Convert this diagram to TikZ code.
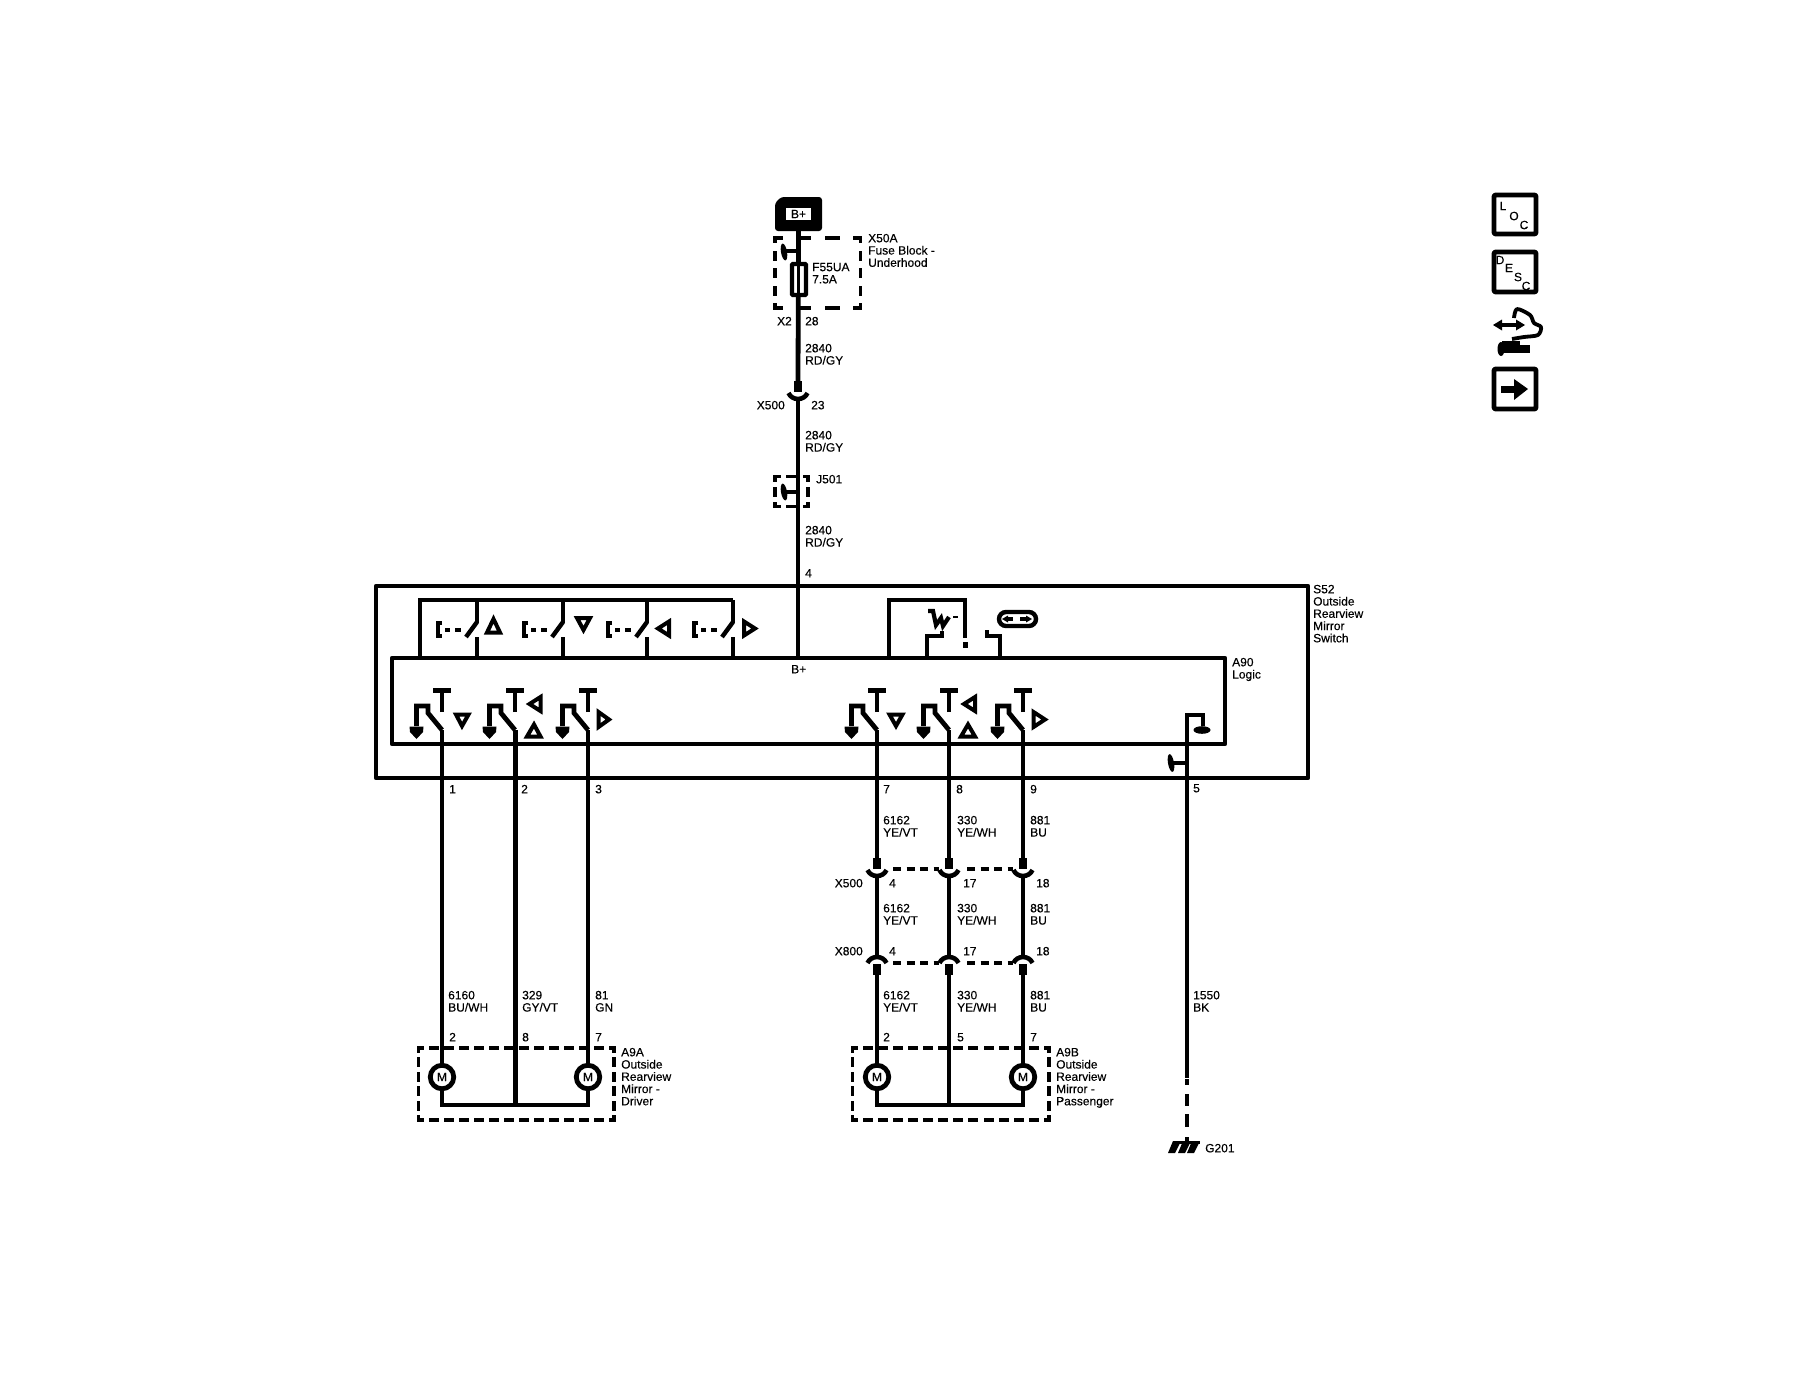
\documentclass[tikz,border=0pt]{standalone}
\usepackage{fontspec}
\setmainfont{Liberation Sans}
\newfontfamily\wireface{Liberation Sans}[FakeBold=0.25]
\newcommand{\wfont}{\wireface\fontsize{12}{12.25}\selectfont}
\newcommand{\dside}[5]{%
  \pgfmathsetmacro\dLen{veclen(#3-#1,#4-#2)}%
  \pgfmathsetmacro\dPer{\dLen/#5}%
  \pgfmathsetmacro\dOn{\dashon-3.4}%
  \pgfmathsetmacro\dOff{\dPer-\dOn}%
  \pgfmathsetmacro\dPh{\dOn/2}%
  \draw[line width=3.4pt,line cap=rect,dash pattern={on \dOn pt off \dOff pt},dash phase=\dPh pt] (#1,#2)--(#3,#4);%
}
\newcommand{\dbx}[8]{%
  \def\dashon{#7}\dside{#1}{#2}{#3}{#2}{#5}\dside{#1}{#4}{#3}{#4}{#5}%
  \def\dashon{#8}\dside{#1}{#2}{#1}{#4}{#6}\dside{#3}{#2}{#3}{#4}{#6}%
}
\tikzset{
  x=1pt,y=-1pt,
  lbl/.style={inner sep=0pt,anchor=base west,yshift=-4.3pt,font=\wfont},
  mlbl/.style={inner sep=0pt,anchor=north west,align=left,yshift=4.3pt,font=\wfont},
  wire/.style={line width=4.8pt,line cap=butt,line join=miter},
  frame/.style={line width=4.6pt,line join=round},
  dlink/.style={line width=3.2pt,dash pattern=on 8pt off 5.5pt},
  tri/.style={line width=4pt,line join=miter,miter limit=10},
  motor/.style={circle,draw,fill=white,line width=4.8pt,minimum size=23.5pt,inner sep=0pt,font=\wfont},
  icon/.style={line width=4.6pt,line join=round,rounded corners=1pt},
  icontxt/.style={inner sep=0pt,font=\wfont},
  logicsw/.pic={
    \draw[wire] (0,0)--(-14,-17)--(-14,-24)--(-25.5,-24)--(-25.5,-4);
    \fill (-32.5,-3.5)--(-18.5,-3.5)--(-19,2)--(-25.5,9)--(-32,2)--cycle;
    \draw[wire] (0,-18)--(0,-41) (-9,-39.5)--(9,-39.5);
  },
  mirrorsw/.pic={
    \draw[wire,line width=4.4pt] (0,0)--(0,23) (0,37)--(0,58);
    \draw[wire,line width=4.4pt] (0,22)--(-11,37);
    \draw[wire,line width=3.6pt] (-35,23)--(-39,23)--(-39,36)--(-35,36) (-32,30)--(-27,30) (-22,30)--(-16,30);
  },
  cupconn/.pic={
    \fill (-4,0) rectangle (4,11);
    \draw[wire,line width=4.6pt] (-9.5,12) .. controls (-6,20) and (6,20) .. (9.5,12);
  },
  capconn/.pic={
    \fill (-4,0) rectangle (4,-11);
    \draw[wire,line width=4.6pt] (-9.5,-12) .. controls (-6,-20) and (6,-20) .. (9.5,-12);
  },
}
\begin{document}
\begin{tikzpicture}
\useasboundingbox (0,0) rectangle (1800,1376);
\fill[white] (0,0) rectangle (1800,1376);

% anchors of the supply wire
\coordinate (splice50) at (798,251);
\coordinate (x500up) at (798,381);
\coordinate (x500dn) at (798,398);
\coordinate (bplus) at (798,658);

% battery
\fill[rounded corners=3pt] (775,203)--(781,197)--(822,197)--(822,231)--(775,231)--cycle;
\node[fill=white,minimum width=25pt,minimum height=12pt,inner sep=0pt,font=\wfont] (bat) at (798.5,214) {B+};

% dashed outlines
\dbx{775}{238}{860.5}{308}{3}{4}{15}{10}
\dbx{775}{476.5}{808}{506.5}{2}{2}{11}{10}
\dbx{418.5}{1048}{614}{1120}{13}{5}{10}{10}
\dbx{852.5}{1048}{1049}{1120}{13}{5}{10}{10}

% supply wire
\draw[wire] (bat.south |- 0,231) -- (x500up);
\pic at (x500up) {cupconn};
\draw[wire] (x500dn) -- (bplus);

% fuse
\draw[line width=4.4pt,rounded corners=1pt,fill=white] (792,264) rectangle (806,295);
\draw[line width=3pt] (798.5,262) -- (798.5,297);
% splices
\draw[line width=4pt] (783,251) -- (splice50);
\fill[rotate around={10:(784,252)}] (784,252) ellipse (3pt and 8.5pt);
\draw[line width=4pt] (783,492) -- (798,492);
\fill[rotate around={10:(784,492)}] (784,492) ellipse (3pt and 8.5pt);

% module boxes
\draw[frame] (376,586) rectangle (1308,778);
\draw[frame] (392,658) rectangle (1225,744);

% top bus with mirror switches
\draw[wire,line width=4.4pt] (420,658)--(420,600)--(733,600);
\pic at (477,600) {mirrorsw};
\pic at (563,600) {mirrorsw};
\pic at (647,600) {mirrorsw};
\pic at (733,600) {mirrorsw};
\draw[tri] (487,632.5)--(500,632.5)--(493.5,619)--cycle;
\draw[tri] (577,618)--(590,618)--(583.5,630)--cycle;
\draw[tri] (669,621.5)--(669,635.5)--(658,628.5)--cycle;
\draw[tri] (744,621.5)--(744,635.5)--(755,628.5)--cycle;

% folding circuit
\draw[wire,line width=4.4pt] (889,658)--(889,600)--(965,600)--(965,638);
\fill (963,642) rectangle (968,648);
\draw[wire,line width=4.2pt] (928,611)--(933,611)--(936,625)--(941,618)--(943,626)--(949,617);
\draw[wire,line width=2.8pt] (953,617)--(958,617);
\draw[wire,line width=4.4pt] (942,631)--(942,636)--(927,636)--(927,658);
\draw[wire,line width=4.4pt] (987,630)--(987,636)--(1000,636)--(1000,658);
\draw[line width=4.4pt,rounded corners=7pt,fill=white] (999,612) rectangle (1036,626);
\draw[line width=3.2pt] (1006,619)--(1013,619) (1020,619)--(1028,619);
\fill (1002,619)--(1008,615.5)--(1008,622.5)--cycle;
\fill (1032,619)--(1026,615.5)--(1026,622.5)--cycle;

% logic switches
\foreach \sx in {442,515,588,877,949,1023} {\pic at (\sx,730) {logicsw};}
\draw[tri] (456,714.5)--(468.5,714.5)--(462,726)--cycle;
\draw[tri] (540.5,697)--(540.5,711)--(529.5,704)--cycle;
\draw[tri] (527,736.5)--(540.5,736.5)--(534,724.5)--cycle;
\draw[tri] (598.5,712)--(598.5,727)--(609,719.5)--cycle;
\draw[tri] (889.5,714.5)--(902.5,714.5)--(896,726)--cycle;
\draw[tri] (975,697)--(975,711)--(964,704)--cycle;
\draw[tri] (961,736.5)--(975,736.5)--(968,724.5)--cycle;
\draw[tri] (1033.5,712)--(1033.5,727)--(1045,719.5)--cycle;

% ground logic
\draw[wire] (1187,1078)--(1187,715)--(1203,715)--(1203,726);
\fill (1202,730) ellipse (8.5pt and 3.8pt);
\draw[line width=4pt] (1171,763)--(1187,763);
\fill[rotate around={10:(1171,763)}] (1171,763) ellipse (3pt and 9pt);
\coordinate (gnd) at (1187,1141);
\draw[wire,dash pattern=on 6pt off 9pt on 12pt off 8pt on 13pt off 10pt] (1187,1079)--(gnd);
\fill (1175,1141) rectangle (1200,1144);
\fill (1173,1141)--(1181,1141)--(1175,1153)--(1168,1153)--cycle;
\fill (1183,1141)--(1191,1141)--(1185,1153)--(1178,1153)--cycle;
\fill (1192,1141)--(1200,1141)--(1194,1153)--(1187,1153)--cycle;

% motors
\node[motor] (m1) at (442,1077) {M};
\node[motor] (m2) at (588,1077) {M};
\node[motor] (m3) at (877,1077) {M};
\node[motor] (m4) at (1023,1077) {M};
\coordinate (mid1) at (516,1105);
\coordinate (mid2) at (949,1105);

% harness wires, left mirror
\draw[wire] (442,730) -- (m1);
\draw[wire] (588,730) -- (m2);
\draw[wire] (515.5,730) -- (515.5,1107);
\draw[wire] (m1.south) |- (mid1) -| (m2.south);
% right mirror, through X500 / X800
\foreach \wx in {877,949,1023} {
  \draw[wire] (\wx,730)--(\wx,858);
  \pic at (\wx,858) {cupconn};
  \draw[wire] (\wx,875)--(\wx,958);
  \pic at (\wx,975) {capconn};
}
\draw[wire] (877,975) -- (m3);
\draw[wire] (1023,975) -- (m4);
\draw[wire] (949,975) -- (949,1107);
\draw[wire] (m3.south) |- (mid2) -| (m4.south);
\draw[dlink] (893,869)--(939,869) (967,869)--(1013,869);
\draw[dlink] (893,963)--(939,963) (967,963)--(1013,963);

% labels, top
\node[mlbl] (lx50) at (868,238) {X50A\\Fuse Block -\\Underhood};
\node[mlbl] (lf55) at (812,267) {F55UA\\7.5A};
\node[lbl,anchor=base east] (lx2) at (792,321) {X2};
\node[lbl] (l28) at (805,321) {28};
\node[mlbl] (l2840a) at (805,348) {2840\\RD/GY};
\node[lbl,anchor=base east] (lx500a) at (785,405) {X500};
\node[lbl] (l23) at (811,405) {23};
\node[mlbl] (l2840b) at (805,435) {2840\\RD/GY};
\node[lbl] (lj501) at (816,479) {J501};
\node[mlbl] (l2840c) at (805,530) {2840\\RD/GY};
\node[lbl] (l4a) at (805,573) {4};
\node[mlbl] (ls52) at (1313,589) {S52\\Outside\\Rearview\\Mirror\\Switch};
\node[mlbl] (la90) at (1232,662) {A90\\Logic};
\node[lbl] (lbp) at (791,669) {B+};

% pin numbers on the module
\node[lbl] (p1) at (449,789) {1};
\node[lbl] (p2) at (521,789) {2};
\node[lbl] (p3) at (595,789) {3};
\node[lbl] (p7) at (883,789) {7};
\node[lbl] (p8) at (956,789) {8};
\node[lbl] (p9) at (1030,789) {9};
\node[lbl] (p5) at (1193,788) {5};

% right harness labels
\node[mlbl] (a1) at (883,820) {6162\\YE/VT};
\node[mlbl] (a2) at (957,820) {330\\YE/WH};
\node[mlbl] (a3) at (1030,820) {881\\BU};
\node[lbl,anchor=base east] (lx500b) at (863,883) {X500};
\node[lbl] (b1) at (889,883) {4};
\node[lbl] (b2) at (963,883) {17};
\node[lbl] (b3) at (1036,883) {18};
\node[mlbl] (c1) at (883,908) {6162\\YE/VT};
\node[mlbl] (c2) at (957,908) {330\\YE/WH};
\node[mlbl] (c3) at (1030,908) {881\\BU};
\node[lbl,anchor=base east] (lx800) at (863,951) {X800};
\node[lbl] (d1) at (889,951) {4};
\node[lbl] (d2) at (963,951) {17};
\node[lbl] (d3) at (1036,951) {18};
\node[mlbl] (e1) at (883,995) {6162\\YE/VT};
\node[mlbl] (e2) at (957,995) {330\\YE/WH};
\node[mlbl] (e3) at (1030,995) {881\\BU};
\node[lbl] (f1) at (883,1037) {2};
\node[lbl] (f2) at (957,1037) {5};
\node[lbl] (f3) at (1030,1037) {7};

% left harness labels
\node[mlbl] (g1) at (448,995) {6160\\BU/WH};
\node[mlbl] (g2) at (522,995) {329\\GY/VT};
\node[mlbl] (g3) at (595,995) {81\\GN};
\node[lbl] (h1) at (449,1037) {2};
\node[lbl] (h2) at (522,1037) {8};
\node[lbl] (h3) at (595,1037) {7};
\node[mlbl] (la9a) at (621,1052) {A9A\\Outside\\Rearview\\Mirror -\\Driver};
\node[mlbl] (la9b) at (1056,1052) {A9B\\Outside\\Rearview\\Mirror -\\Passenger};
\node[mlbl] (l1550) at (1193,995) {1550\\BK};
\node[lbl] (lg201) at (1205,1148) {G201};

% icons
\draw[icon] (1494,195) rectangle (1536,234);
\node[icontxt] (iL) at (1503,206) {L};
\node[icontxt] (iO) at (1514,216) {O};
\node[icontxt] (iC) at (1524,225) {C};
\draw[icon] (1494,252) rectangle (1536,292);
\node[icontxt] (dD) at (1500,260) {D};
\node[icontxt] (dE) at (1509,268) {E};
\node[icontxt] (dS) at (1518,277) {S};
\node[icontxt] (dC) at (1526,286) {C};
\draw[line width=4.6pt] (1499,325)--(1518,325);
\fill (1493,325)--(1502,319.5)--(1502,330.5)--cycle;
\fill (1525,325)--(1516,319.5)--(1516,330.5)--cycle;
\draw[line width=3.8pt,line join=round] plot[smooth,tension=.5] coordinates {(1514,318)(1517,309)(1530,315)(1534,323)(1541,327)(1538,335)(1524,337)(1512,339)};
\draw[line width=8pt] (1500,348.5)--(1530,348.5);
\draw[line width=4pt] (1502,343)--(1520,343);
\fill (1501,349) ellipse (3.5pt and 7pt);
\draw[icon] (1494,369) rectangle (1536,409);
\fill (1501,385.5) rectangle (1515,392.5);
\fill (1514,379)--(1528,389)--(1514,400)--cycle;
\end{tikzpicture}
\end{document}
